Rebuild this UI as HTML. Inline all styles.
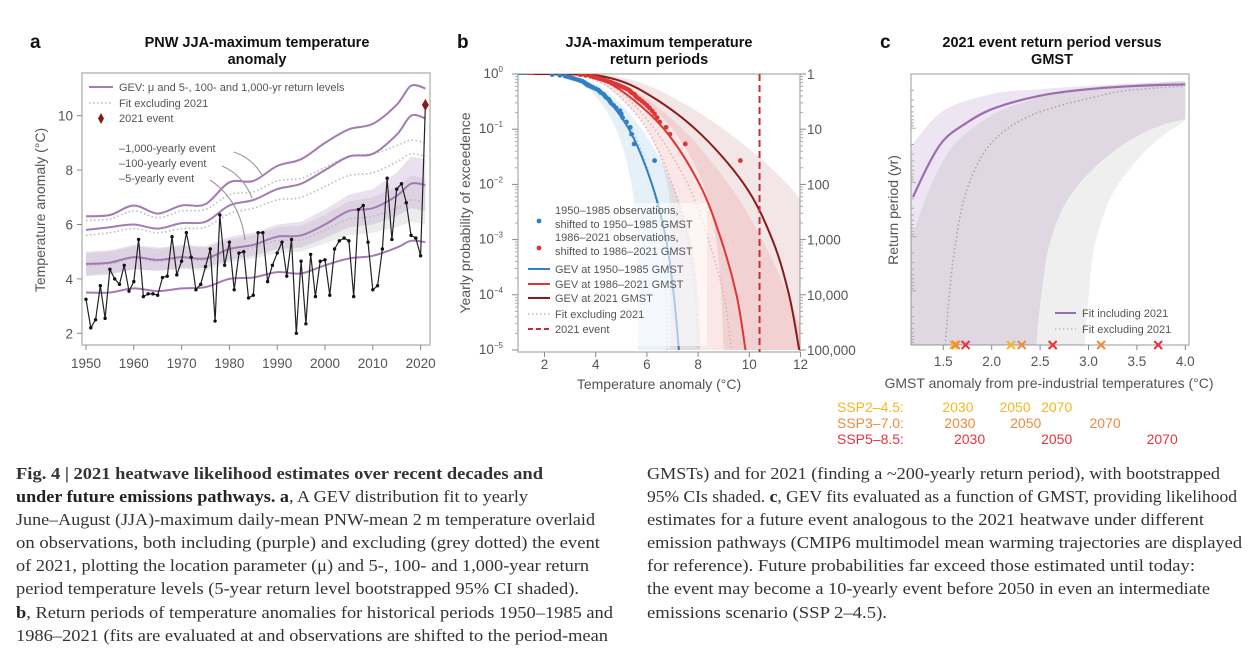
<!DOCTYPE html>
<html><head><meta charset="utf-8">
<style>
html,body{margin:0;padding:0;background:#fff;}
svg{display:block;font-family:"Liberation Sans",sans-serif;}
.cap{font-family:"Liberation Serif",serif;font-size:17px;fill:#333;}
.tick{font-size:13.5px;fill:#555;}
.lg{font-size:11px;fill:#555;}
</style></head>
<body>
<svg id="fig" width="1257" height="662" viewBox="0 0 1257 662" xmlns="http://www.w3.org/2000/svg">
<defs>
<clipPath id="clipA"><rect x="82" y="73" width="348" height="272"/></clipPath>
<clipPath id="clipB"><rect x="518" y="74" width="282" height="278"/></clipPath>
<clipPath id="clipC"><rect x="911" y="74" width="278" height="271"/></clipPath>
</defs>
<!-- titles -->
<text x="30" y="48" font-size="19" font-weight="bold" fill="#111">a</text>
<text x="257" y="47" font-size="14.5" font-weight="bold" text-anchor="middle" fill="#111">PNW JJA-maximum temperature</text>
<text x="257" y="64" font-size="14.5" font-weight="bold" text-anchor="middle" fill="#111">anomaly</text>
<text x="457" y="48" font-size="19" font-weight="bold" fill="#111">b</text>
<text x="659" y="47" font-size="14.5" font-weight="bold" text-anchor="middle" fill="#111">JJA-maximum temperature</text>
<text x="659" y="64" font-size="14.5" font-weight="bold" text-anchor="middle" fill="#111">return periods</text>
<text x="880" y="48" font-size="19" font-weight="bold" fill="#111">c</text>
<text x="1052" y="47" font-size="14.5" font-weight="bold" text-anchor="middle" fill="#111">2021 event return period versus</text>
<text x="1052" y="64" font-size="14.5" font-weight="bold" text-anchor="middle" fill="#111">GMST</text>

<g id="pa"></g>
<g id="pb"></g>
<g id="pc"></g>

<!-- caption -->
<g>
<text class="cap" x="16" y="479" textLength="527" lengthAdjust="spacingAndGlyphs" font-weight="bold" fill="#222">Fig. 4 | 2021 heatwave likelihood estimates over recent decades and</text>
<text class="cap" x="16" y="502" textLength="512" lengthAdjust="spacingAndGlyphs"><tspan font-weight="bold" fill="#222">under future emissions pathways. a</tspan>, A GEV distribution fit to yearly</text>
<text class="cap" x="16" y="525" textLength="579" lengthAdjust="spacingAndGlyphs">June–August (JJA)-maximum daily-mean PNW-mean 2 m temperature overlaid</text>
<text class="cap" x="16" y="548" textLength="584" lengthAdjust="spacingAndGlyphs">on observations, both including (purple) and excluding (grey dotted) the event</text>
<text class="cap" x="16" y="571" textLength="573" lengthAdjust="spacingAndGlyphs">of 2021, plotting the location parameter (μ) and 5-, 100- and 1,000-year return</text>
<text class="cap" x="16" y="594" textLength="563" lengthAdjust="spacingAndGlyphs">period temperature levels (5-year return level bootstrapped 95% CI shaded).</text>
<text class="cap" x="16" y="618" textLength="597" lengthAdjust="spacingAndGlyphs"><tspan font-weight="bold" fill="#222">b</tspan>, Return periods of temperature anomalies for historical periods 1950–1985 and</text>
<text class="cap" x="16" y="641" textLength="592" lengthAdjust="spacingAndGlyphs">1986–2021 (fits are evaluated at and observations are shifted to the period-mean</text>
<text class="cap" x="647" y="479" textLength="573" lengthAdjust="spacingAndGlyphs">GMSTs) and for 2021 (finding a ~200-yearly return period), with bootstrapped</text>
<text class="cap" x="647" y="502" textLength="590" lengthAdjust="spacingAndGlyphs">95% CIs shaded. <tspan font-weight="bold" fill="#222">c</tspan>, GEV fits evaluated as a function of GMST, providing likelihood</text>
<text class="cap" x="647" y="525" textLength="557" lengthAdjust="spacingAndGlyphs">estimates for a future event analogous to the 2021 heatwave under different</text>
<text class="cap" x="647" y="548" textLength="595" lengthAdjust="spacingAndGlyphs">emission pathways (CMIP6 multimodel mean warming trajectories are displayed</text>
<text class="cap" x="647" y="571" textLength="548" lengthAdjust="spacingAndGlyphs">for reference). Future probabilities far exceed those estimated until today:</text>
<text class="cap" x="647" y="594" textLength="563" lengthAdjust="spacingAndGlyphs">the event may become a 10-yearly event before 2050 in even an intermediate</text>
<text class="cap" x="647" y="618" textLength="240" lengthAdjust="spacingAndGlyphs">emissions scenario (SSP 2–4.5).</text>
</g>
</svg>
<script>
// ---------- Panel A data ----------
const obsStartYear = 1950;
const obsValues = [3.25,2.2,2.5,3.75,2.55,4.35,4.0,3.8,4.5,3.55,
 3.9,5.45,3.35,3.45,3.45,3.4,4.05,4.1,5.55,4.15,
 4.65,5.7,4.8,3.6,3.8,4.45,5.1,2.45,6.35,4.5,
 5.35,3.6,4.95,5.0,3.3,3.4,5.7,5.7,3.9,4.5,
 4.95,5.35,4.1,5.45,2.0,4.65,2.35,4.9,3.35,4.65,
 4.7,3.4,5.1,5.4,5.5,5.4,3.35,6.55,6.7,5.35,
 3.6,3.75,5.1,7.7,5.45,7.3,7.5,6.8,5.6,5.5,4.85,10.4];
const gevYears = [1950,1955,1960,1965,1970,1975,1980,1985,1990,1995,2000,2005,2010,2015,2018,2021];
const muLevel = [3.5,3.5,3.65,3.55,3.65,3.7,4.0,4.05,4.25,4.2,4.5,4.75,4.85,5.15,5.4,5.35];
const rl5 = [4.55,4.6,4.8,4.7,4.8,4.75,5.1,5.25,5.55,5.6,6.0,6.5,6.6,7.05,7.5,7.45];
const rl100 = [5.8,5.9,6.0,5.85,6.05,6.1,6.7,6.9,7.3,7.5,8.0,8.5,8.6,9.3,10.0,9.9];
const rl1000 = [6.3,6.35,6.7,6.4,6.7,6.75,7.55,7.6,8.15,8.4,9.0,9.5,9.7,10.4,11.1,11.0];
const rl5Excl = [4.5,4.55,4.75,4.65,4.75,4.7,5.0,5.15,5.4,5.45,5.8,6.2,6.3,6.6,6.9,6.8];
const rl100Excl = [5.6,5.7,5.85,5.7,5.85,5.9,6.4,6.6,6.9,7.0,7.4,7.8,7.9,8.3,8.6,8.5];
const rl1000Excl = [6.15,6.2,6.5,6.25,6.5,6.55,7.1,7.2,7.6,7.7,8.1,8.5,8.6,8.9,9.1,9.0];
const ciLow = [4.1,4.15,4.35,4.3,4.4,4.4,4.7,4.85,5.1,5.15,5.5,5.9,6.0,6.3,6.6,6.5];
const ciHigh = [5.0,5.05,5.25,5.15,5.25,5.2,5.55,5.7,6.0,6.1,6.55,7.1,7.3,7.9,8.5,8.4];
const ciExclLow = [4.15,4.2,4.35,4.3,4.35,4.3,4.6,4.75,4.95,5.0,5.3,5.6,5.7,5.9,6.1,6.0];
const ciExclHigh = [4.95,5.0,5.2,5.1,5.2,5.15,5.45,5.6,5.9,5.95,6.35,6.85,7.0,7.4,7.8,7.7];
const aYTicks = [2,4,6,8,10];
const aXTicks = [1950,1960,1970,1980,1990,2000,2010,2020];

// ---------- Panel B data ----------
const probLevels = [0.999,0.9,0.5,0.1,0.01,0.001,0.0001,0.00001];
const gevBlue = [2.0,3.0,4.1,5.3,6.2,6.75,7.05,7.25];
const gevRed = [2.5,3.8,5.0,6.67,8.06,8.9,9.5,9.85];
const gevDark = [2.8,4.3,5.8,7.9,9.8,10.9,11.55,11.95];
const exclBlue = [2.0,3.0,4.1,5.4,6.2,6.6,6.75,6.8];
const exclMid = [2.3,3.5,4.7,6.0,7.0,7.6,7.9,8.0];
const exclRed = [2.4,3.7,4.9,6.3,7.6,8.4,9.0,9.3];
const blueLow = [1.9,2.8,3.8,4.8,5.4,5.6,5.65,5.65];
const blueHigh = [2.2,3.2,4.4,5.8,7.0,7.7,8.0,8.1];
const redLow = [2.3,3.5,4.6,6.0,6.8,6.9,6.9,6.9];
const redHigh = [2.8,4.1,5.5,7.4,9.2,10.5,11.5,12.3];
const darkLow = [2.6,4.0,5.3,7.0,8.2,8.7,8.9,9.0];
const darkHigh = [3.2,4.8,6.5,9.0,11.5,13,14,15];
const obsBlue = [6.3,5.5,5.4,5.35,5.2,5.05,5.0,4.95,4.8,4.7,4.6,4.55,4.5,4.4,4.35,4.3,4.2,4.15,4.1,4.0,3.9,3.8,3.7,3.65,3.6,3.55,3.5,3.4,3.3,3.2,3.1,3.0,2.9,2.8,2.6,2.3];
const obsRed = [9.65,7.5,6.9,6.75,6.5,6.4,6.3,6.2,6.1,6.0,5.9,5.8,5.7,5.6,5.55,5.5,5.4,5.35,5.3,5.2,5.1,5.0,4.9,4.8,4.7,4.6,4.5,4.4,4.3,4.2,4.1,4.0,3.9,3.8,3.6,3.4];
const event2021 = 10.4;
const bXTicks = [2,4,6,8,10,12];
const bYExp = [0,-1,-2,-3,-4,-5];
const bRightLabels = ["1","10","100","1,000","10,000","100,000"];

// ---------- Panel C data (log10 return period) ----------
const inclX = [1.187,1.35,1.5,1.69,2.0,2.5,3.0,3.5,4.0];
const inclY = [2.27,1.66,1.23,0.96,0.65,0.40,0.28,0.22,0.19];
const exclX = [1.52,1.56,1.62,1.72,1.89,2.09,2.36,2.69,3.03,3.37,4.0];
const exclY = [5.0,4.11,3.19,2.27,1.54,1.11,0.80,0.59,0.44,0.31,0.22];
const inclUpX = [1.187,1.5,2.0,2.5,3.0,4.0];
const inclUpY = [1.29,0.68,0.37,0.28,0.22,0.13];
const inclLoX = [2.46,2.51,2.59,2.76,3.03,3.37,3.70,4.0];
const inclLoY = [5,4.11,3.19,2.39,1.78,1.29,0.98,0.83];
const exclUpX = [1.187,1.35,1.52,1.69,2.02,2.36,2.69,3.03,3.37,4.0];
const exclUpY = [2.95,2.15,1.54,1.17,0.74,0.50,0.34,0.25,0.19,0.13];
const exclLoX = [2.96,3.0,3.06,3.23,3.47,3.70,4.0];
const exclLoY = [5,4.11,3.19,2.27,1.66,1.23,0.86];
const ssp245 = [1.61,2.20,2.63];
const ssp370 = [1.63,2.31,3.13];
const ssp585 = [1.73,2.63,3.72];
const sspYears = ["2030","2050","2070"];
const cXTicks = [1.5,2.0,2.5,3.0,3.5,4.0];

// ---------- helpers ----------
const NS = "http://www.w3.org/2000/svg";
function mk(parent, tag, attrs, text) {
  const e = document.createElementNS(NS, tag);
  for (const k in attrs) e.setAttribute(k, attrs[k]);
  if (text !== undefined) e.textContent = text;
  parent.appendChild(e);
  return e;
}
function smooth(pts) {
  let d = "M" + pts[0][0].toFixed(1) + "," + pts[0][1].toFixed(1);
  for (let i = 0; i < pts.length - 1; i++) {
    const p0 = pts[i-1] || pts[i], p1 = pts[i], p2 = pts[i+1], p3 = pts[i+2] || p2;
    const c1 = [p1[0] + (p2[0]-p0[0])/6, p1[1] + (p2[1]-p0[1])/6];
    const c2 = [p2[0] - (p3[0]-p1[0])/6, p2[1] - (p3[1]-p1[1])/6];
    d += "C" + c1[0].toFixed(1)+","+c1[1].toFixed(1)+" "+c2[0].toFixed(1)+","+c2[1].toFixed(1)+" "+p2[0].toFixed(1)+","+p2[1].toFixed(1);
  }
  return d;
}
function polyD(pts){return "M"+pts.map(p=>p[0].toFixed(1)+","+p[1].toFixed(1)).join("L");}

// ---------- Panel A ----------
const xa = yr => 86 + (yr - 1950) * 4.78;
const ya = v => 387.7 - v * 27.2;
const pa = document.getElementById("pa");
let e;
e = mk(pa, "rect", {x:82, y:73, width:348, height:272, fill:"#fff", stroke:"#aaa", "stroke-width":1.2});


const ga = mk(pa, "g", {"clip-path":"url(#clipA)"});
function bandA(lo, hi, fill, name) {
  const pts = gevYears.map((y,i)=>[xa(y), ya(hi[i])]).concat(gevYears.slice().reverse().map((y,j)=>[xa(y), ya(lo[gevYears.length-1-j])]));
  const el = mk(ga, "path", {d: polyD(pts)+"Z", fill: fill});
  
  
}
bandA(ciExclLow, ciExclHigh, "rgba(150,150,150,0.18)", "ci-band-excluding-2021");
bandA(ciLow, ciHigh, "rgba(170,130,190,0.25)", "ci-band-5yr");
function lineA(vals, style, name) {
  const pts = gevYears.map((y,i)=>[xa(y), ya(vals[i])]);
  const el = mk(ga, "path", Object.assign({d: smooth(pts), fill:"none"}, style));
  
  
}
const dotted = {stroke:"#bbb", "stroke-width":1.6, "stroke-dasharray":"1.5 2.5"};
lineA(rl5Excl, dotted, "excl-5yr-line");
lineA(rl100Excl, dotted, "excl-100yr-line");
lineA(rl1000Excl, dotted, "excl-1000yr-line");
const purple = {stroke:"#a47ab5", "stroke-width":2};
lineA(muLevel, purple, "gev-mu-line");
lineA(rl5, purple, "gev-5yr-line");
lineA(rl100, purple, "gev-100yr-line");
lineA(rl1000, purple, "gev-1000yr-line");
const obsPts = obsValues.map((v,i)=>[xa(obsStartYear+i), ya(v)]);
e = mk(ga, "path", {d: polyD(obsPts), fill:"none", stroke:"#222", "stroke-width":1.2});


obsPts.forEach((p,i)=>{
  if (i === obsPts.length-1) {
    const d = mk(ga, "path", {d:`M${p[0]},${p[1]-6}L${p[0]+3.5},${p[1]}L${p[0]},${p[1]+6}L${p[0]-3.5},${p[1]}Z`, fill:"#8b1a1a"});
    
    
  } else {
    const c = mk(ga, "circle", {cx:p[0], cy:p[1], r:1.7, fill:"#111"});
    
    
  }
});
aYTicks.forEach(v=>{
  mk(pa, "line", {x1:77, x2:82, y1:ya(v), y2:ya(v), stroke:"#888"});
  const t = mk(pa, "text", {x:73, y:ya(v)+5, "text-anchor":"end", class:"tick"}, String(v));
  
  
});
aXTicks.forEach(v=>{
  mk(pa, "line", {x1:xa(v), x2:xa(v), y1:345, y2:350, stroke:"#888"});
  const t = mk(pa, "text", {x:xa(v), y:368, "text-anchor":"middle", class:"tick", "font-size":"14"}, String(v));
  
  
});
e = mk(pa, "text", {x:0, y:0, transform:"translate(45,210) rotate(-90)", "text-anchor":"middle", "font-size":"14", fill:"#555"}, "Temperature anomaly (°C)");


// legend a
e = mk(pa, "line", {x1:89, x2:113, y1:87, y2:87, stroke:"#a47ab5", "stroke-width":2});


e = mk(pa, "text", {x:119, y:91, class:"lg"}, "GEV: μ and 5-, 100- and 1,000-yr return levels");


e = mk(pa, "line", {x1:89, x2:113, y1:103, y2:103, stroke:"#bbb", "stroke-width":1.6, "stroke-dasharray":"1.5 2.5"});


e = mk(pa, "text", {x:119, y:107, class:"lg"}, "Fit excluding 2021");


e = mk(pa, "path", {d:"M101,113L104,118.5L101,124L98,118.5Z", fill:"#8b1a1a"});


e = mk(pa, "text", {x:119, y:122, class:"lg"}, "2021 event");


[["–1,000-yearly event",152,"M234,152 Q252,158 262,175"],["–100-yearly event",167,"M222,166 Q243,175 252,198"],["–5-yearly event",182,"M210,180 Q240,200 245,240"]].forEach(a=>{
  const t = mk(pa, "text", {x:119, y:a[1], class:"lg"}, a[0]);
  
  
  const l = mk(pa, "path", {d:a[2], fill:"none", stroke:"#999", "stroke-width":1.1});
  
  
});

// ---------- Panel B ----------
const xb = t => 544.5 + (t - 2) * 25.6;
const yb = p => 74 - Math.log10(p) * 55.2;
const pb = document.getElementById("pb");
e = mk(pb, "rect", {x:518, y:74, width:282, height:278, fill:"#fff", stroke:"#aaa", "stroke-width":1.2});


const gb = mk(pb, "g", {"clip-path":"url(#clipB)"});
function curvePts(xs){ const pts = xs.map((x,i)=>[xb(x), yb(probLevels[i])]); pts.unshift([xb(xs[0]-1.2), yb(1)]); return pts; }
function bandB(lo, hi, fill, name){
  const a = curvePts(hi), b = curvePts(lo).reverse();
  const el = mk(gb, "path", {d: smooth(a) + "L" + smooth(b).slice(1) + "Z", fill: fill});
  
  
}
bandB(darkLow, darkHigh, "rgba(160,60,60,0.13)", "band-2021-gmst");
bandB(redLow, redHigh, "rgba(230,70,70,0.13)", "band-1986-2021");
bandB(blueLow, blueHigh, "rgba(60,140,210,0.13)", "band-1950-1985");
function curveB(xs, style, name){
  const el = mk(gb, "path", Object.assign({d: smooth(curvePts(xs)), fill:"none"}, style));
  
  
}
const dotB = {stroke:"#d9b5b5", "stroke-width":1.6, "stroke-dasharray":"1.5 2.5"};
curveB(exclBlue, {stroke:"#b9c8d8", "stroke-width":1.6, "stroke-dasharray":"1.5 2.5"}, "excl-fit-blue");
curveB(exclMid, dotB, "excl-fit-mid");
curveB(exclRed, dotB, "excl-fit-red");
curveB(gevBlue, {stroke:"#2f80c4", "stroke-width":2}, "gev-1950-1985");
curveB(gevRed, {stroke:"#e03535", "stroke-width":2}, "gev-1986-2021");
curveB(gevDark, {stroke:"#8b1a1a", "stroke-width":2}, "gev-2021");
obsBlue.forEach((v,i)=>{
  const c = mk(gb, "circle", {cx:xb(v), cy:yb((i+1)/(obsBlue.length+1)), r:2.4, fill:"#2f80c4"});
  
  
});
obsRed.forEach((v,i)=>{
  const c = mk(gb, "circle", {cx:xb(v), cy:yb((i+1)/(obsRed.length+1)), r:2.4, fill:"#e03535"});
  
  
});
e = mk(gb, "line", {x1:xb(event2021), x2:xb(event2021), y1:74, y2:352, stroke:"#c0303a", "stroke-width":2, "stroke-dasharray":"7 4"});


// ticks
bYExp.forEach((ex,i)=>{
  const y = yb(Math.pow(10,ex));
  mk(pb, "line", {x1:512, x2:518, y1:y, y2:y, stroke:"#888"});
  mk(pb, "line", {x1:800, x2:806, y1:y, y2:y, stroke:"#888"});
  const t = mk(pb, "text", {x:503, y:y+4, "text-anchor":"end", class:"tick", "font-size":"12"});
  
  
  mk(t, "tspan", {}, "10");
  mk(t, "tspan", {dy:-6, "font-size":"8"}, String(ex).replace("-","−"));
  const r = mk(pb, "text", {x:807, y:y+5, class:"tick"}, bRightLabels[i]);
  
  
  if (ex > -5) for (let m=2;m<10;m++){
    const ym = yb(Math.pow(10,ex-1)*m);
    mk(pb, "line", {x1:515, x2:518, y1:ym, y2:ym, stroke:"#aaa"});
    mk(pb, "line", {x1:800, x2:803, y1:ym, y2:ym, stroke:"#aaa"});
  }
});
bXTicks.forEach(v=>{
  mk(pb, "line", {x1:xb(v), x2:xb(v), y1:352, y2:357, stroke:"#888"});
  const t = mk(pb, "text", {x:xb(v), y:369, "text-anchor":"middle", class:"tick"}, String(v));
  
  
});
e = mk(pb, "text", {x:659, y:389, "text-anchor":"middle", "font-size":"14", fill:"#555"}, "Temperature anomaly (°C)");


e = mk(pb, "text", {x:0, y:0, transform:"translate(470,213) rotate(-90)", "text-anchor":"middle", "font-size":"14", fill:"#555"}, "Yearly probability of exceedence");


// legend b
e = mk(pb, "rect", {x:527, y:203, width:180, height:143, fill:"rgba(255,255,255,0.6)"});


const lgB = [
 ["dot","#2f80c4",221,["1950–1985 observations,","shifted to 1950–1985 GMST"],214],
 ["dot","#e03535",248,["1986–2021 observations,","shifted to 1986–2021 GMST"],241],
 ["line","#2f80c4",269,["GEV at 1950–1985 GMST"],273],
 ["line","#e03535",284,["GEV at 1986–2021 GMST"],288],
 ["line","#8b1a1a",298,["GEV at 2021 GMST"],302],
 ["dot3","#ccc",314,["Fit excluding 2021"],318],
 ["dash","#c0303a",329,["2021 event"],333]];
lgB.forEach(it=>{
  let s;
  if (it[0]==="dot") s = mk(pb, "circle", {cx:539, cy:it[2], r:2.4, fill:it[1]});
  else s = mk(pb, "line", {x1:528, x2:550, y1:it[2], y2:it[2], stroke:it[1], "stroke-width":2, "stroke-dasharray": it[0]==="dash" ? "5 3" : (it[0]==="dot3" ? "1.5 2.5" : "none")});
  
  
  it[3].forEach((txt,k)=>{
    const t = mk(pb, "text", {x:555, y:it[4]+k*14, class:"lg"}, txt);
    
    
  });
});

// ---------- Panel C ----------
const xc = g => 943.3 + (g - 1.5) * 96.8;
const yc = lg => 74 + lg * 54.2;
const pc = document.getElementById("pc");
e = mk(pc, "rect", {x:911, y:74, width:278, height:271, fill:"#fff", stroke:"#aaa", "stroke-width":1.2});


const gc = mk(pc, "g", {"clip-path":"url(#clipC)"});
function bandC(ux, uy, lx, ly, fill, name){
  const up = ux.map((x,i)=>[xc(x), yc(uy[i])]);
  const lo = lx.map((x,i)=>[xc(x), yc(ly[i])]).reverse();
  const d = smooth(up) + "L" + smooth(lo).slice(1) + `L${xc(lx[0])},${yc(6)}L${xc(1.0)},${yc(6)}L${xc(1.0)},${yc(uy[0])}Z`;
  const el = mk(gc, "path", {d:d, fill:fill});
  
  
}
bandC(inclUpX, inclUpY, inclLoX, inclLoY, "rgba(165,125,185,0.2)", "band-including-2021");
bandC(exclUpX, exclUpY, exclLoX, exclLoY, "rgba(120,120,120,0.12)", "band-excluding-2021");
e = mk(gc, "path", {d: smooth(exclX.map((x,i)=>[xc(x), yc(exclY[i])])), fill:"none", stroke:"#aaa", "stroke-width":1.6, "stroke-dasharray":"1.5 2.5"});


e = mk(gc, "path", {d: smooth(inclX.map((x,i)=>[xc(x), yc(inclY[i])])), fill:"none", stroke:"#9d6cb0", "stroke-width":2.2});


for (let d=0; d<5; d++) for (let m=1; m<10; m++){
  const y = yc(d + Math.log10(m));
  mk(pc, "line", {x1:911, x2: m===1?916:914, y1:y, y2:y, stroke:"#aaa"});
}
cXTicks.forEach(v=>{
  mk(pc, "line", {x1:xc(v), x2:xc(v), y1:345, y2:350, stroke:"#888"});
  const t = mk(pc, "text", {x:xc(v), y:366, "text-anchor":"middle", class:"tick"}, v.toFixed(1));
  
  
});
const sspColors = ["#f4b81e","#ef8a3c","#e8333f"];
[ssp245, ssp370, ssp585].forEach((arr,k)=>{
  arr.forEach(g=>{
    const x = xc(g), y = 345;
    const c = mk(pc, "path", {d:`M${x-4},${y-4}L${x+4},${y+4}M${x-4},${y+4}L${x+4},${y-4}`, stroke:sspColors[k], "stroke-width":2});
    
    
  });
});
e = mk(pc, "text", {x:1049, y:388, "text-anchor":"middle", "font-size":"14", fill:"#555"}, "GMST anomaly from pre-industrial temperatures (°C)");


e = mk(pc, "text", {x:0, y:0, transform:"translate(898,210) rotate(-90)", "text-anchor":"middle", "font-size":"14", fill:"#555"}, "Return period (yr)");


e = mk(pc, "line", {x1:1055, x2:1076, y1:313, y2:313, stroke:"#9d6cb0", "stroke-width":2});


e = mk(pc, "text", {x:1082, y:317, class:"lg"}, "Fit including 2021");


e = mk(pc, "line", {x1:1055, x2:1076, y1:329, y2:329, stroke:"#bbb", "stroke-width":1.6, "stroke-dasharray":"1.5 2.5"});


e = mk(pc, "text", {x:1082, y:333, class:"lg"}, "Fit excluding 2021");


const sspNames = ["SSP2–4.5:","SSP3–7.0:","SSP5–8.5:"];
[ssp245, ssp370, ssp585].forEach((arr,k)=>{
  const y = 412 + k*16;
  const t = mk(pc, "text", {x:837, y:y, "font-size":"14", fill:sspColors[k]}, sspNames[k]);
  
  
  arr.forEach((g,i)=>{
    const yt = mk(pc, "text", {x:xc(g)+4, y:y, "text-anchor":"middle", "font-size":"14", fill:sspColors[k]}, sspYears[i]);
    
    
  });
});
</script>
</body></html>
